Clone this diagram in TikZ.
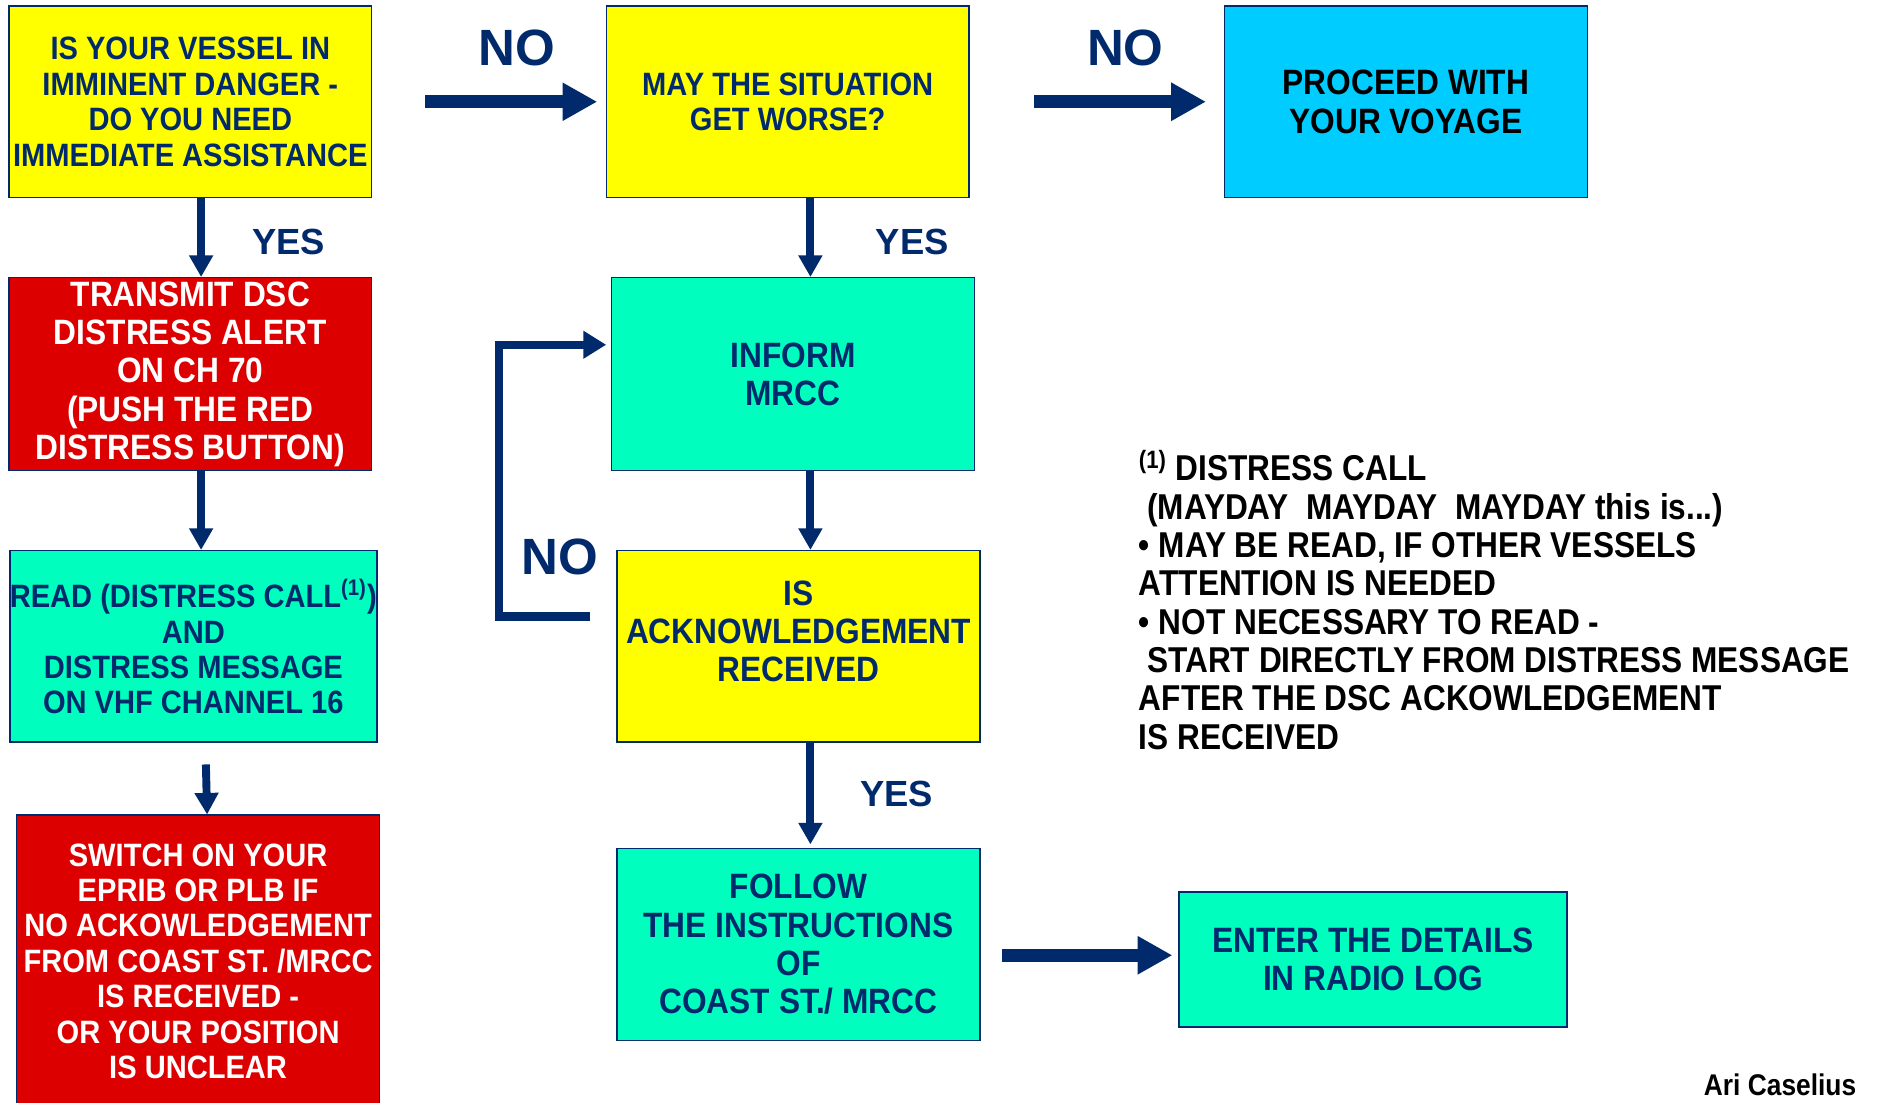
\documentclass[tikz,border=0pt]{standalone}
\usepackage{fontspec}
\setmainfont{Liberation Sans}
\newfontfamily\flowfont[FakeStretch=0.9]{Liberation Sans}
\newfontfamily\notefont[FakeStretch=0.88]{Liberation Sans}
\usepackage{tikz}
\usetikzlibrary{arrows.meta}

\definecolor{navy}{HTML}{002A6C}
\definecolor{qyellow}{HTML}{FFFF00}
\definecolor{qred}{HTML}{DD0000}
\definecolor{qteal}{HTML}{00FFBF}
\definecolor{qcyan}{HTML}{00CCFF}

\tikzset{
    flowbox/.style={draw=navy, line width=0.6pt, inner sep=0pt, minimum width=151.5pt,
        minimum height=80pt, align=center, text=navy,
        font=\flowfont\bfseries\fontsize{13.5}{14.8}\selectfont},
    flowtext/.style={inner sep=0pt, align=center, text=navy,
        font=\flowfont\bfseries\fontsize{13.5}{14.8}\selectfont},
    bigtext/.style={font=\flowfont\bfseries\fontsize{14.7}{16}\selectfont},
    nolabel/.style={text=navy, font=\bfseries\fontsize{21.3}{22}\selectfont},
    yeslabel/.style={text=navy, font=\bfseries\fontsize{15.2}{16}\selectfont},
    downarrow/.style={draw=navy, line width=3.3pt, -{Triangle[width=9.5pt,length=9pt]}},
    bigarrow/.style={draw=navy, line width=5.5pt, -{Triangle[width=15pt,length=14.5pt]}},
    looparrow/.style={draw=navy, line width=3.5pt, -{Triangle[width=11pt,length=9.5pt]}}
}

\begin{document}
\begin{tikzpicture}[x=0.5pt, y=-0.5pt]
    % page frame
    \useasboundingbox[fill=white] (0,0) rectangle (1568,921);

    % left column
    \node[flowbox, fill=qyellow] (danger) at (159,85)
        {IS YOUR VESSEL IN\\IMMINENT DANGER -\\DO YOU NEED\\IMMEDIATE ASSISTANCE};
    \node[flowbox, bigtext, fill=qred, text=white, minimum height=80.5pt] (transmit) at (159,312.5)
        {TRANSMIT DSC\\DISTRESS ALERT\\ON CH 70\\(PUSH THE RED\\DISTRESS BUTTON)};
    \node[flowbox, fill=qteal] (readcall) at (161.5,540)
        {READ (DISTRESS CALL\textsuperscript{(1)})\\AND\\DISTRESS MESSAGE\\ON VHF CHANNEL 16};
    \node[flowbox, fill=qred, text=white, minimum height=122pt] (beacon) at (165.5,803)
        {SWITCH ON YOUR\\EPRIB OR PLB IF\\NO ACKOWLEDGEMENT\\FROM COAST ST. /MRCC\\IS RECEIVED -\\OR YOUR POSITION\\IS UNCLEAR};

    % middle column
    \node[flowbox, fill=qyellow] (worse) at (658,85) {MAY THE SITUATION\\GET WORSE?};
    \node[flowbox, bigtext, fill=qteal, minimum height=80.5pt] (inform) at (662.5,312.5) {INFORM\\MRCC};
    \node[flowbox, fill=qyellow] (ackn) at (667,540) {};
    \node[flowtext, bigtext] (ackntext) at (667,527.5) {IS\\ACKNOWLEDGEMENT\\RECEIVED};
    \node[flowbox, bigtext, fill=qteal] (follow) at (667,789)
        {FOLLOW\\THE INSTRUCTIONS\\OF\\COAST ST./ MRCC};

    % right column
    \node[flowbox, bigtext, fill=qcyan, text=black] (proceed) at (1174.5,85) {PROCEED WITH\\YOUR VOYAGE};
    \node[flowbox, bigtext, fill=qteal, minimum width=162pt, minimum height=56.5pt] (logbook) at (1147,801.5)
        {ENTER THE DETAILS\\IN RADIO LOG};

    % answers
    \node[nolabel] (no1) at (432,40) {NO};
    \node[nolabel] (no2) at (940,40) {NO};
    \node[nolabel] (no3) at (468,465) {NO};
    \node[yeslabel] (yes1) at (241,202) {YES};
    \node[yeslabel] (yes2) at (762,202) {YES};
    \node[yeslabel] (yes3) at (749,663) {YES};

    % connectors
    \draw[downarrow] ([xshift=4.5pt]danger.south) -- ([xshift=4.5pt]transmit.north);
    \draw[downarrow] ([xshift=4.5pt]transmit.south) -- ([xshift=3.25pt]readcall.north);
    \coordinate (callgap) at ([xshift=5.25pt,yshift=-9pt]readcall.south);
    \draw[downarrow] (callgap) -- ([xshift=3.75pt]beacon.north);
    \draw[downarrow] ([xshift=9.5pt]worse.south) -- ([xshift=7.25pt]inform.north);
    \draw[downarrow] ([xshift=7.25pt]inform.south) -- ([xshift=5pt]ackn.north);
    \draw[downarrow, shorten >=1.5pt] ([xshift=5pt]ackn.south) -- ([xshift=5pt]follow.north);
    \draw[bigarrow, shorten <=22pt, shorten >=3.5pt] (danger.east) -- (worse.west);
    \draw[bigarrow, shorten <=27pt, shorten >=7.5pt] (worse.east) -- (proceed.west);
    \draw[bigarrow, shorten <=9pt, shorten >=2.5pt] ([yshift=-4.5pt]follow.east)
        -- ([yshift=-4.5pt]follow.east -| logbook.west);
    \draw[looparrow, shorten >=2pt] ([xshift=-11pt,yshift=12.5pt]ackn.west) -- ++(-38pt,0)
        |- ([yshift=12.25pt]inform.west);

    % footnote
    \node[anchor=west, align=left, inner sep=0pt, font=\notefont\bfseries\fontsize{15}{16}\selectfont] (note) at (951,501)
        {\textsuperscript{(1)} DISTRESS CALL\\
         \hspace{3.5pt}(MAYDAY\ \ MAYDAY\ \ MAYDAY this is...)\\
         \textbullet\ MAY BE READ, IF OTHER VESSELS\\
         ATTENTION IS NEEDED\\
         \textbullet\ NOT NECESSARY TO READ -\\
         \hspace{3.5pt}START DIRECTLY FROM DISTRESS MESSAGE\\
         AFTER THE DSC ACKOWLEDGEMENT\\
         IS RECEIVED};
    \node[anchor=east, inner sep=0pt, font=\notefont\bfseries\fontsize{12.5}{14}\selectfont] (author) at (1551,906) {Ari Caselius};
\end{tikzpicture}
\end{document}
